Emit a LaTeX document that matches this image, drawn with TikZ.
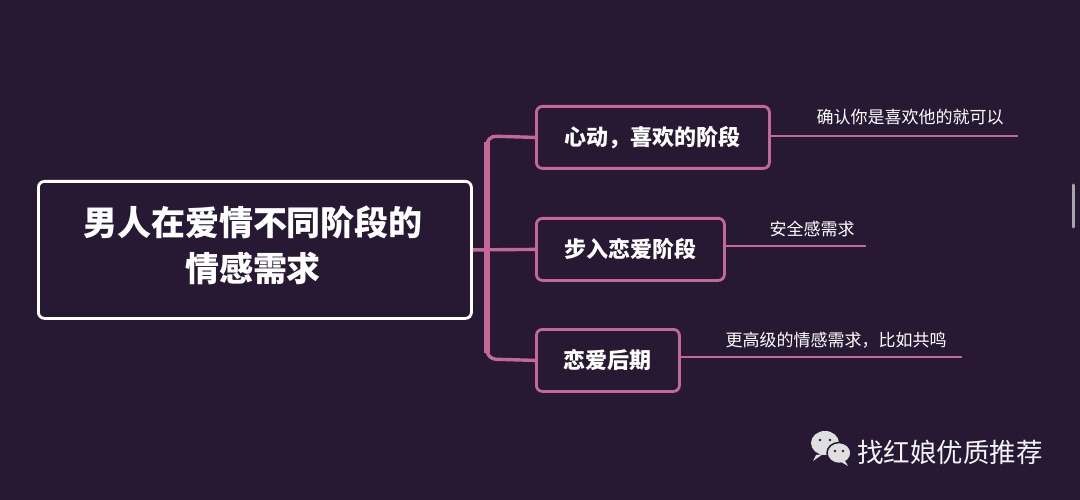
\documentclass[tikz,border=0pt]{standalone}
\usepackage{fontspec}
\setmainfont{Noto Sans CJK SC}
\begin{document}
\begin{tikzpicture}[x=1pt,y=-1pt,
  pk/.style={draw=pinkc,line width=2.8pt,rounded corners=6pt},
  box/.style={pk,fill=bgc,anchor=north west,inner sep=0pt},
  bt/.style={text=white,font=\fontsize{22}{26}\selectfont\bfseries},
  lbl/.style={text=white,font=\fontsize{17}{20}\selectfont,inner sep=0pt},
  ln/.style={draw=pinkc,line width=2.4pt}]
\definecolor{bgc}{HTML}{271933}
\definecolor{pinkc}{HTML}{C46898}
\fill[bgc] (0,0) rectangle (1080,500);
\useasboundingbox (0,0) rectangle (1080,500);
% main
\node[draw=white,line width=2.8pt,rounded corners=6pt,fill=bgc,minimum width=433pt,minimum height=137pt,anchor=north west,inner sep=0pt] (m) at (37,180) {};
\node[text=white,font=\fontsize{34}{46}\selectfont\bfseries,align=center] (mt) at (253,245) {男人在爱情不同阶段的\\情感需求};
% boxes
\node[box,minimum width=233pt,minimum height=62pt] (b1) at (535,105) {};
\node[bt] (t1) at (b1.center) {心动，喜欢的阶段};
\node[box,minimum width=188pt,minimum height=62pt] (b2) at (535,217) {};
\node[bt] (t2) at (b2.center) {步入恋爱阶段};
\node[box,minimum width=143pt,minimum height=62pt] (b3) at (535,328) {};
\node[bt] (t3) at (b3.center) {恋爱后期};
% bracket
\draw[pinkc,line width=6pt] (487,142) -- (487,353);
\draw[pinkc,line width=3.4pt,rounded corners=9pt] (b1.west) -- (487,136) -- (487,359) -- (b3.west);
\draw[pinkc,line width=3.4pt] (m.east) -- (b2.west);
% labels
\coordinate (e1) at (1018,136);
\coordinate (e2) at (866,246);
\coordinate (e3) at (962,357);
\draw[ln] (b1.east |- e1) -- (e1);
\draw[ln] (b2.east |- e2) -- (e2);
\draw[ln] (b3.east |- e3) -- (e3);
\node[lbl] (l1) at (910,117) {确认你是喜欢他的就可以};
\node[lbl] (l2) at (812,229) {安全感需求};
\node[lbl] (l3) at (836,340) {更高级的情感需求，比如共鸣};
% scrollbar
\draw[gray!70,line width=3pt,line cap=round] (1073,185) -- (1073,227);
% watermark
\fill[gray!25] (825,443) ellipse (14pt and 12pt);
\fill[gray!25] (816,455) -- (813,461) -- (823,454);
\draw[bgc,line width=1.5pt,fill=gray!25] (839,453) ellipse (12pt and 10.5pt);
\fill[gray!25] (845,461) -- (848,466) -- (841,462);
\fill[bgc] (820,440) circle (1.4pt) (830,440) circle (1.4pt) (835,451) circle (1.3pt) (843,451) circle (1.3pt);
\node[text=white!92!gray,font=\fontsize{26.5}{30}\selectfont,anchor=west,inner sep=0pt] (w) at (857,452) {找红娘优质推荐};
\end{tikzpicture}
\end{document}
